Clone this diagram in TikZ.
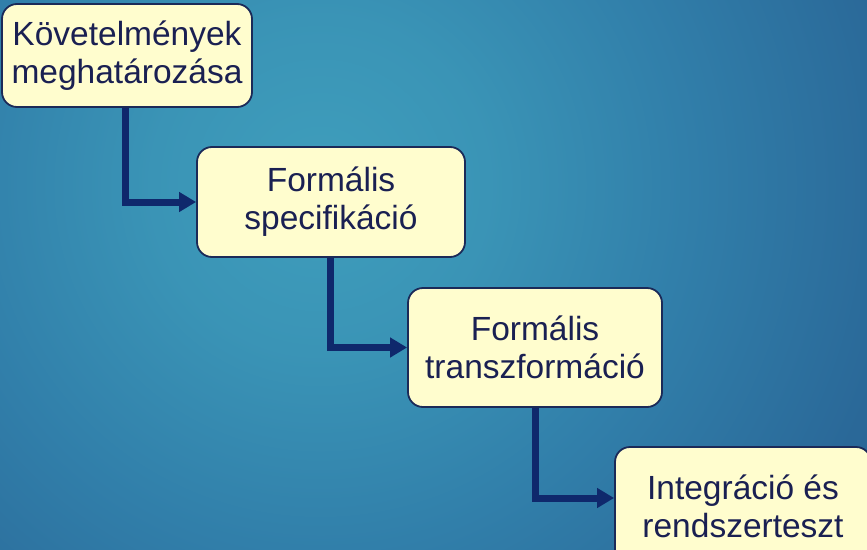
\documentclass[tikz,border=0pt]{standalone}
\usepackage{fontspec}
\setmainfont{Liberation Sans}
\usetikzlibrary{arrows.meta,calc}

\definecolor{bgA}{HTML}{3F9EBC}
\definecolor{bgB}{HTML}{3A94B6}
\definecolor{bgC}{HTML}{317FAA}
\definecolor{bgD}{HTML}{2A6898}
\definecolor{bgE}{HTML}{1A4A7E}
\definecolor{bgF}{HTML}{10335F}
\definecolor{boxFill}{HTML}{FFFDCE}
\definecolor{boxLine}{HTML}{1B2A58}
\definecolor{textNavy}{HTML}{1A2052}
\definecolor{arrowNavy}{HTML}{0F286C}

\pgfdeclareradialshading{backglow}{\pgfpoint{0bp}{0bp}}{%
  color(0bp)=(bgA); color(6bp)=(bgB); color(13bp)=(bgC);
  color(21bp)=(bgD); color(40bp)=(bgE); color(50bp)=(bgF)}

\tikzset{
  stagebox/.style={draw=boxLine, line width=1.8pt, fill=boxFill,
    rounded corners=15pt, align=center, text=textNavy, inner sep=0pt,
    font=\fontsize{33.5}{38}\selectfont},
  flowarrow/.style={draw=arrowNavy, line width=7pt, line join=miter,
    -{Triangle[length=17pt,width=19pt]}}
}

\begin{document}
\begin{tikzpicture}[x=1pt,y=-1pt]
  % canvas and background glow
  \useasboundingbox (0,0) rectangle (867,549);
  \begin{scope}
    \clip (0,0) rectangle (867,549);
    \shade[shading=backglow] (320-700,185-700) rectangle (320+700,185+700);
  \end{scope}

  % process stages
  \begin{scope}
    \clip (0,0) rectangle (867,549);
    \node[stagebox, minimum width=250pt, minimum height=103pt] (b1) at (127,55.5)
      {Követelmények\\meghatározása};
    \node[stagebox, minimum width=268pt, minimum height=110pt] (b2) at (331,202)
      {Formális\\specifikáció};
    \node[stagebox, minimum width=254pt, minimum height=119pt] (b3) at (535,347.5)
      {Formális\\transzformáció};
    \node[stagebox, minimum width=256pt, minimum height=118pt] (b4) at (743,506)
      {Integráció és\\rendszerteszt};
  \end{scope}

  % stepping connectors
  \draw[flowarrow] ([xshift=-2pt]b1.south) |- (b2.west);
  \draw[flowarrow] ([xshift=-1pt]b2.south) |- (b3.west);
  \draw[flowarrow] (b3.south) |- ($(b4.west)+(0,-8)$);
\end{tikzpicture}
\end{document}
